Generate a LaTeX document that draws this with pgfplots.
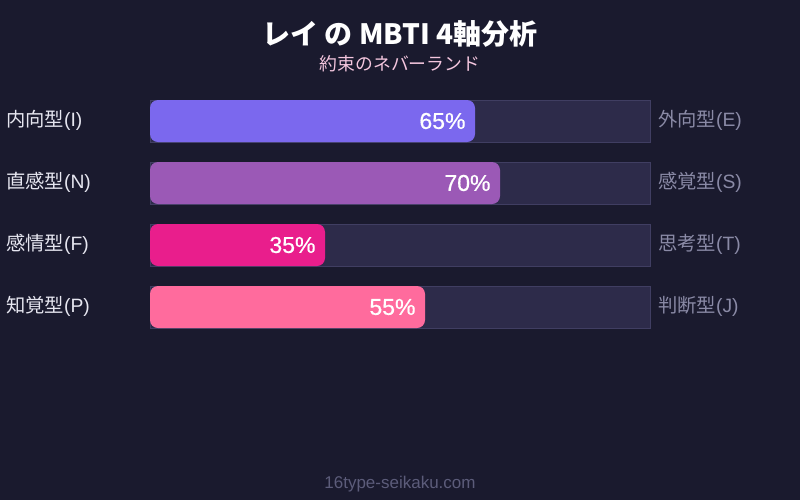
\documentclass[border=0pt]{standalone}
\usepackage{fontspec}
\setmainfont{Liberation Sans}
\newfontfamily\jp{Noto Sans CJK JP}
\newfontfamily\pct[FakeBold=0.6]{Liberation Sans}
\usepackage{pgfplots}
\pgfplotsset{compat=1.18}

\definecolor{bg}{HTML}{1A1A2E}
\definecolor{track}{HTML}{2D2B4A}
\definecolor{trackline}{HTML}{403E62}
\definecolor{cI}{HTML}{7B68EE}
\definecolor{cN}{HTML}{9B59B6}
\definecolor{cF}{HTML}{E91E8C}
\definecolor{cP}{HTML}{FF6B9D}
\definecolor{lefttxt}{HTML}{E6E6F0}
\definecolor{righttxt}{HTML}{8A8AA6}
\definecolor{subtxt}{HTML}{F4C6DE}
\definecolor{foot}{HTML}{5C5C7A}

\begin{document}
\begin{tikzpicture}
\fill[bg] (0,0) rectangle (800bp,500bp);
\begin{axis}[
  at={(0,0)}, anchor=south west,
  scale only axis, width=800bp, height=500bp,
  xmin=-30, xmax=130, ymin=0, ymax=500, y dir=reverse,
  hide axis, clip=false,
  xbar, bar width=42, bar shift=0pt,
  point meta=x,
  /pgf/number format/assume math mode=true,
]
% tracks
\addplot[xbar, fill=track, draw=trackline, line width=0.6bp, bar shift=0pt]
  coordinates {(100,121) (100,183) (100,245) (100,307)};
% value bars
\pgfplotsset{every node near coord/.style={anchor=east, xshift=-6bp, text=white,
  font=\pct\fontsize{23bp}{25bp}\selectfont}}
\addplot[xbar, fill=cI, draw=none, rounded corners=8bp, bar shift=0pt,
  nodes near coords={\pgfmathprintnumber{\pgfplotspointmeta}\%}]
  coordinates {(65,121)};
\addplot[xbar, fill=cN, draw=none, rounded corners=8bp, bar shift=0pt,
  nodes near coords={\pgfmathprintnumber{\pgfplotspointmeta}\%}]
  coordinates {(70,183)};
\addplot[xbar, fill=cF, draw=none, rounded corners=8bp, bar shift=0pt,
  nodes near coords={\pgfmathprintnumber{\pgfplotspointmeta}\%}]
  coordinates {(35,245)};
\addplot[xbar, fill=cP, draw=none, rounded corners=8bp, bar shift=0pt,
  nodes near coords={\pgfmathprintnumber{\pgfplotspointmeta}\%}]
  coordinates {(55,307)};

% titles
\node[text=white, font=\jp\fontsize{28bp}{30bp}\selectfont\bfseries] at (axis cs:50,34) {レイ の MBTI 4軸分析};
\node[text=subtxt, font=\jp\fontsize{17.8bp}{20bp}\selectfont] at (axis cs:50,64) {約束のネバーランド};

% left labels
\begin{scope}[every node/.style={anchor=west, text=lefttxt, font=\fontsize{19.3bp}{21bp}\selectfont, inner sep=0pt}]
\node at (axis cs:-28.8,120) {{\jp 内向型}(I)};
\node at (axis cs:-28.8,182) {{\jp 直感型}(N)};
\node at (axis cs:-28.8,244) {{\jp 感情型}(F)};
\node at (axis cs:-28.8,306) {{\jp 知覚型}(P)};
\end{scope}
% right labels
\begin{scope}[every node/.style={anchor=west, text=righttxt, font=\fontsize{19.3bp}{21bp}\selectfont, inner sep=0pt}]
\node at (axis cs:101.6,120) {{\jp 外向型}(E)};
\node at (axis cs:101.6,182) {{\jp 感覚型}(S)};
\node at (axis cs:101.6,244) {{\jp 思考型}(T)};
\node at (axis cs:101.6,306) {{\jp 判断型}(J)};
\end{scope}

\node[text=foot, font=\fontsize{17bp}{18bp}\selectfont] at (axis cs:50,484) {16type-seikaku.com};
\end{axis}
\pgfresetboundingbox
\path (0,0) rectangle (800bp,500bp);
\end{tikzpicture}
\end{document}
